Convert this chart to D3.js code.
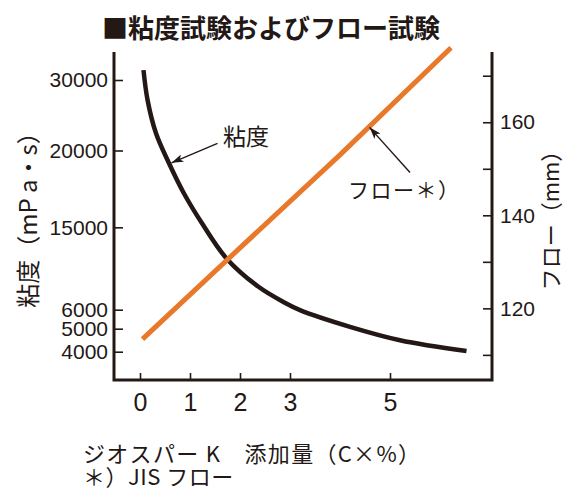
<!DOCTYPE html>
<html>
<head>
<meta charset="utf-8">
<script src="https://cdn.jsdelivr.net/npm/d3@7"></script>
<style>
  body { margin: 0; background: #fff; }
  text { fill: #231815; }
</style>
</head>
<body>
<div id="chart"></div>
<script>
// viscosity / flow test chart

const addAmount = [0.07, 0.15, 0.32, 0.58, 0.88, 1.24, 1.73, 2.37, 2.87, 3.2, 4.2, 5.2, 6.53];
const viscosity = [31400, 27200, 22440, 19170, 17200, 15260, 11600, 8500, 6840, 5980, 5100, 4500, 4030];

const flowAmount = [0.05, 2, 4, 6.22];
const flowValues = [113.4, 133, 153, 176];

const xTicks = [0, 1, 2, 3, 5];
const viscTicks = [4000, 5000, 6000, 15000, 20000, 30000];
const flowTicks = [110, 120, 130, 140, 150, 160, 170];
const flowLabelTicks = [120, 140, 160];

const W = 564, H = 488;
const plot = { left: 114, right: 492, top: 52, bottom: 380 };

const jp = '"Noto Sans CJK JP", "Noto Sans", sans-serif';
const num = '"Liberation Sans", Arial, sans-serif';
const ink = '#231815';
const orange = '#e8782a';

const svg = d3.select('#chart').append('svg')
    .attr('width', W)
    .attr('height', H);

svg.append('defs').append('marker')
    .attr('id', 'arrow')
    .attr('viewBox', '0 0 12 8')
    .attr('refX', 12)
    .attr('refY', 4)
    .attr('markerWidth', 12)
    .attr('markerHeight', 8)
    .attr('markerUnits', 'userSpaceOnUse')
    .attr('orient', 'auto')
    .append('path')
    .attr('d', 'M0,0 L12,4 L0,8 L3,4 Z')
    .attr('fill', ink);

// scales
const x = d3.scaleLinear()
    .domain([-0.52, 7.04])
    .range([plot.left, plot.right]);

// the left axis of the original is not uniform, so a piecewise scale
const yVisc = d3.scaleLinear()
    .domain(viscTicks)
    .range([351.7, 328.7, 309.7, 227.3, 150.5, 80]);

const yFlow = d3.scaleLinear()
    .domain([104.6, 175.1])
    .range([plot.bottom, plot.top]);

// title
svg.append('text')
    .attr('x', 271)
    .attr('y', 38)
    .attr('text-anchor', 'middle')
    .attr('font-family', jp)
    .attr('font-weight', 'bold')
    .attr('font-size', '26px')
    .text('■粘度試験およびフロー試験');

// frame (left, bottom, right)
svg.append('path')
    .attr('d', `M${plot.left},${plot.top} L${plot.left},${plot.bottom} L${plot.right},${plot.bottom} L${plot.right},${plot.top}`)
    .attr('fill', 'none')
    .attr('stroke', ink)
    .attr('stroke-width', 3)
    .attr('stroke-linejoin', 'miter');

// axes
const leftAxis = svg.append('g')
    .attr('transform', `translate(${plot.left},0)`)
    .call(d3.axisLeft(yVisc).tickValues(viscTicks).tickSize(-9).tickPadding(6).tickFormat(d3.format('d')));

const rightAxis = svg.append('g')
    .attr('transform', `translate(${plot.right},0)`)
    .call(d3.axisRight(yFlow).tickValues(flowTicks).tickSize(-9).tickPadding(8)
        .tickFormat(d => flowLabelTicks.includes(d) ? d : ''));

const bottomAxis = svg.append('g')
    .attr('transform', `translate(0,${plot.bottom})`)
    .call(d3.axisBottom(x).tickValues(xTicks).tickSize(-7).tickPadding(13).tickFormat(d3.format('d')));

[leftAxis, rightAxis, bottomAxis].forEach(a => {
    a.select('.domain').remove();
    a.selectAll('.tick line').attr('stroke', ink).attr('stroke-width', 1.6);
    a.selectAll('.tick text')
        .attr('fill', ink)
        .attr('font-family', num)
        .attr('font-size', '21px');
});
bottomAxis.selectAll('.tick text').attr('font-size', '25px');

// axis titles
svg.append('text')
    .attr('transform', 'translate(37,214) rotate(-90)')
    .attr('text-anchor', 'middle')
    .attr('font-family', jp)
    .attr('font-size', '24px')
    .text('粘度（mP a・s）');

svg.append('text')
    .attr('transform', 'translate(559,215) rotate(-90)')
    .attr('text-anchor', 'middle')
    .attr('font-family', jp)
    .attr('font-size', '22px')
    .text('フロー（mm）');

// series
const viscLine = d3.line()
    .x(d => x(d[0]))
    .y(d => yVisc(d[1]))
    .curve(d3.curveCatmullRom.alpha(0.5));

const flowLine = d3.line()
    .x(d => x(d[0]))
    .y(d => yFlow(d[1]));

svg.append('path')
    .datum(d3.zip(addAmount, viscosity))
    .attr('d', viscLine)
    .attr('fill', 'none')
    .attr('stroke', ink)
    .attr('stroke-width', 4.5);

svg.append('path')
    .datum(d3.zip(flowAmount, flowValues))
    .attr('d', flowLine)
    .attr('fill', 'none')
    .attr('stroke', orange)
    .attr('stroke-width', 5);

// annotations
svg.append('line')
    .attr('x1', x(1.55)).attr('y1', yVisc(21020))
    .attr('x2', x(0.63)).attr('y2', yVisc(19200))
    .attr('stroke', ink)
    .attr('stroke-width', 1.4)
    .attr('marker-end', 'url(#arrow)');

svg.append('text')
    .attr('x', x(1.66))
    .attr('y', yVisc(20780))
    .attr('font-family', jp)
    .attr('font-size', '23px')
    .text('粘度');

svg.append('line')
    .attr('x1', x(5.4)).attr('y1', yFlow(149.2))
    .attr('x2', x(4.59)).attr('y2', yFlow(158.9))
    .attr('stroke', ink)
    .attr('stroke-width', 1.4)
    .attr('marker-end', 'url(#arrow)');

svg.append('text')
    .attr('x', x(4.16))
    .attr('y', yFlow(143.7))
    .attr('font-family', jp)
    .attr('font-size', '21px')
    .attr('letter-spacing', '1.5px')
    .text('フロー＊）');

// footnotes
svg.append('text')
    .attr('x', 83)
    .attr('y', 462)
    .attr('font-family', jp)
    .attr('font-size', '22px')
    .attr('letter-spacing', '1.3px')
    .text('ジオスパー K　添加量（C×%）');

svg.append('text')
    .attr('x', 83)
    .attr('y', 485)
    .attr('font-family', jp)
    .attr('font-size', '22px')
    .attr('letter-spacing', '0.5px')
    .text('＊）JIS フロー');
</script>
</body>
</html>
